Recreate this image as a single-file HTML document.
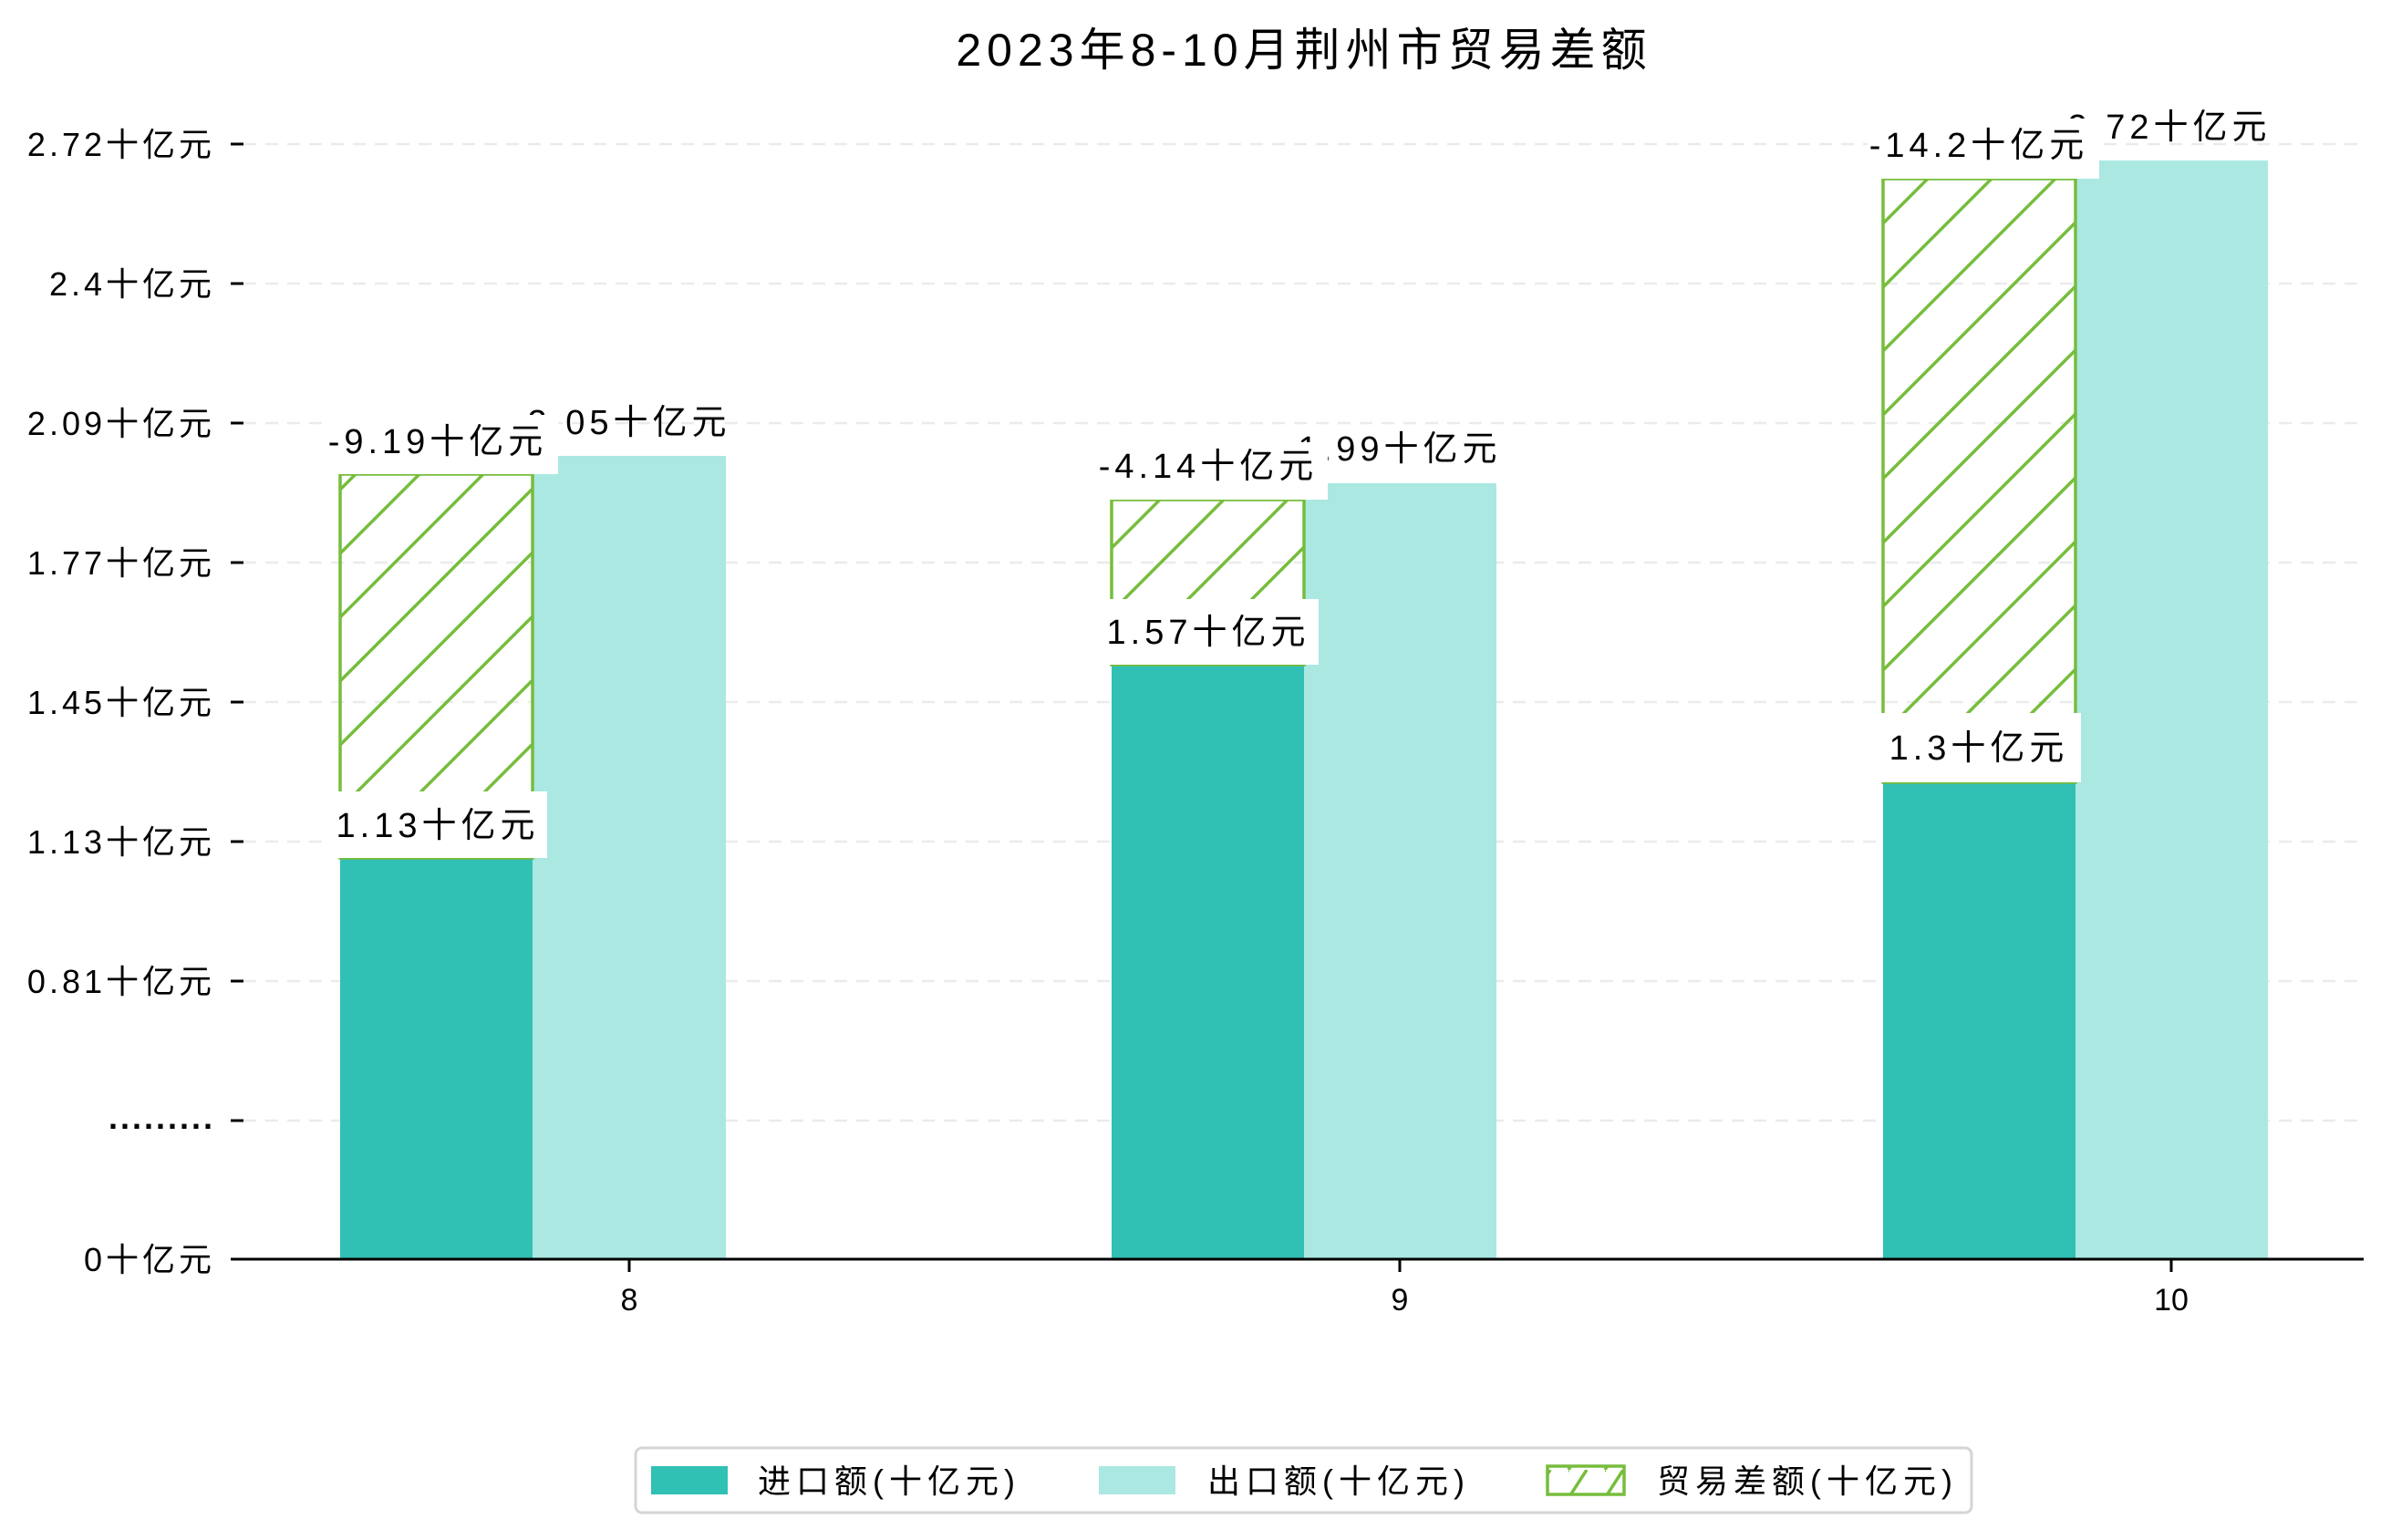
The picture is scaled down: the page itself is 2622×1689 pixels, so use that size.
<!DOCTYPE html>
<html><head><meta charset="utf-8"><style>
html,body{margin:0;padding:0;background:#fff;}
svg{display:block;}
text{font-family:"Liberation Sans","WenQuanYi Zen Hei","Noto Sans CJK SC",sans-serif;fill:#000;}
</style></head><body>
<svg width="2622" height="1689" viewBox="0 0 2622 1689" xmlns="http://www.w3.org/2000/svg">
<defs>
<pattern id="h" patternUnits="userSpaceOnUse" width="70" height="70">
<path d="M-10,10 L10,-10 M0,70 L70,0 M60,80 L80,60" stroke="#76bd3c" stroke-width="3.5"/>
</pattern>
<pattern id="hl" patternUnits="userSpaceOnUse" width="40" height="31">
<path d="M0,31 L20,0 M40,31 L60,0 M-20,31 L0,0" stroke="#76bd3c" stroke-width="3.5"/>
</pattern>
</defs>
<rect width="2622" height="1689" fill="#fff"/>
<text x="1430" y="72" font-size="50" text-anchor="middle" letter-spacing="6">2023年8-10月荆州市贸易差额</text>
<g stroke="#ebebeb" stroke-width="2.5" stroke-dasharray="14,10">
<line x1="267" x2="2592" y1="158" y2="158"/>
<line x1="267" x2="2592" y1="311" y2="311"/>
<line x1="267" x2="2592" y1="464" y2="464"/>
<line x1="267" x2="2592" y1="617" y2="617"/>
<line x1="267" x2="2592" y1="770" y2="770"/>
<line x1="267" x2="2592" y1="923" y2="923"/>
<line x1="267" x2="2592" y1="1076" y2="1076"/>
<line x1="267" x2="2592" y1="1229" y2="1229"/>
</g>
<g stroke="#000" stroke-width="3">
<line x1="253" x2="267" y1="158" y2="158"/><line x1="253" x2="267" y1="311" y2="311"/>
<line x1="253" x2="267" y1="464" y2="464"/><line x1="253" x2="267" y1="617" y2="617"/>
<line x1="253" x2="267" y1="770" y2="770"/><line x1="253" x2="267" y1="923" y2="923"/>
<line x1="253" x2="267" y1="1076" y2="1076"/><line x1="253" x2="267" y1="1229" y2="1229"/>
<line x1="253" x2="267" y1="1381" y2="1381"/>
</g>
<g font-size="36" text-anchor="end" letter-spacing="4">
<text x="236" y="171">2.72十亿元</text>
<text x="236" y="324">2.4十亿元</text>
<text x="236" y="477">2.09十亿元</text>
<text x="236" y="630">1.77十亿元</text>
<text x="236" y="783">1.45十亿元</text>
<text x="236" y="936">1.13十亿元</text>
<text x="236" y="1089">0.81十亿元</text>
<text x="236" y="1238" letter-spacing="3" font-weight="bold">.........</text>
<text x="236" y="1394">0十亿元</text>
</g>
<rect x="373" y="941" width="211" height="440" fill="#31c0b4"/>
<rect x="584" y="500" width="212" height="881" fill="#abe8e2"/>
<rect x="373" y="520" width="211" height="421" fill="url(#h)" stroke="#76bd3c" stroke-width="3.5"/>
<rect x="1219" y="729" width="211" height="652" fill="#31c0b4"/>
<rect x="1430" y="530" width="211" height="851" fill="#abe8e2"/>
<rect x="1219" y="548" width="211" height="181" fill="url(#h)" stroke="#76bd3c" stroke-width="3.5"/>
<rect x="2065" y="858" width="211" height="523" fill="#31c0b4"/>
<rect x="2276" y="176" width="211" height="1205" fill="#abe8e2"/>
<rect x="2065" y="196" width="211" height="662" fill="url(#h)" stroke="#76bd3c" stroke-width="3.5"/>
<g font-size="38" text-anchor="middle" letter-spacing="5">
<text x="690" y="476">2.05十亿元</text>
<rect x="356" y="455" width="256" height="65" fill="#fff"/><text x="480" y="497">-9.19十亿元</text>
<rect x="359" y="868" width="241" height="73" fill="#fff"/><text x="480" y="918">1.13十亿元</text>
<text x="1535" y="505">1.99十亿元</text>
<rect x="1204" y="485" width="252" height="63" fill="#fff"/><text x="1325" y="524">-4.14十亿元</text>
<rect x="1205" y="657" width="241" height="72" fill="#fff"/><text x="1325" y="706">1.57十亿元</text>
<text x="2379" y="152">2.72十亿元</text>
<rect x="2048" y="130" width="254" height="66" fill="#fff"/><text x="2170" y="172">-14.2十亿元</text>
<rect x="2062" y="782" width="220" height="76" fill="#fff"/><text x="2170" y="833">1.3十亿元</text>
</g>
<line x1="253" x2="2592" y1="1381" y2="1381" stroke="#000" stroke-width="3"/>
<g stroke="#000" stroke-width="3">
<line x1="690" x2="690" y1="1381" y2="1395"/><line x1="1535" x2="1535" y1="1381" y2="1395"/><line x1="2381" x2="2381" y1="1381" y2="1395"/>
</g>
<g font-size="34" text-anchor="middle">
<text x="690" y="1437">8</text><text x="1535" y="1437">9</text><text x="2381" y="1437">10</text>
</g>
<rect x="697" y="1588" width="1465" height="71" rx="7" fill="#fff" stroke="#d5d5d5" stroke-width="3"/>
<rect x="714" y="1608" width="84" height="31" fill="#31c0b4"/>
<rect x="1205" y="1608" width="84" height="31" fill="#abe8e2"/>
<rect x="1697" y="1608" width="84" height="31" fill="url(#hl)" stroke="#76bd3c" stroke-width="3.5"/>
<g font-size="36" letter-spacing="6">
<text x="831" y="1637">进口额(十亿元)</text>
<text x="1324" y="1637">出口额(十亿元)</text>
<text x="1817" y="1637">贸易差额(十亿元)</text>
</g>
</svg>
</body></html>
